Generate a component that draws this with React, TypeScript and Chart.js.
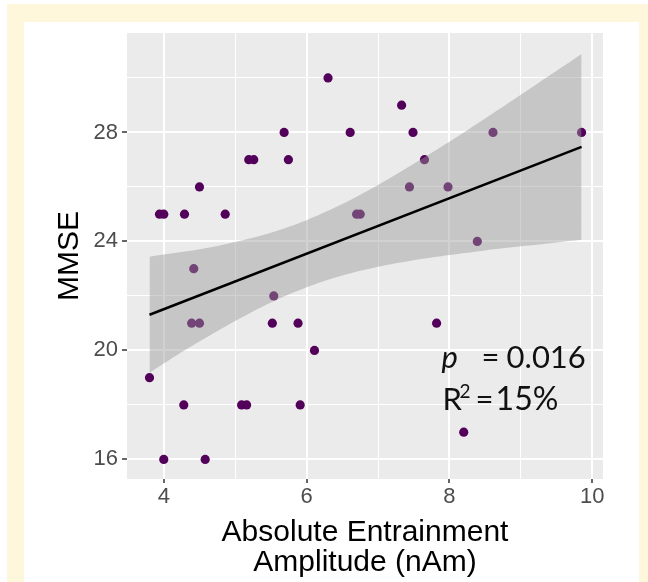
import React, { useEffect, useRef } from "react";
import { Chart, registerables } from "chart.js";

Chart.register(...registerables);

// Scatter data: Absolute Entrainment Amplitude (nAm) vs MMSE
const amplitude = [
  6.3, 5.685, 6.61, 5.19, 5.26, 5.745, 4.5, 3.94, 4.0, 4.29, 4.86, 6.7, 6.75, 4.42,
  7.33, 7.49, 8.61, 9.85, 7.65, 7.44, 7.98, 8.39, 5.54, 4.39, 4.5, 5.52, 5.88, 6.11,
  3.8, 4.28, 5.09, 5.16, 5.91, 4.0, 4.58, 7.82, 8.2,
];
const mmse = [
  30, 28, 28, 27, 27, 27, 26, 25, 25, 25, 25, 25, 25, 23,
  29, 28, 28, 28, 27, 26, 26, 24, 22, 21, 21, 21, 21, 20,
  19, 18, 18, 18, 18, 16, 16, 21, 17,
];

// Regression line and confidence band
const fitX = [3.8, 9.85];
const fitY = [21.31, 27.47];
const bandX = [3.8, 4.2, 4.6, 5.0, 5.5, 6.0, 6.5, 7.0, 7.5, 8.0, 8.5, 9.0, 9.5, 9.85];
const bandUpper = [23.44, 23.59, 23.76, 23.98, 24.32, 24.78, 25.37, 26.07, 26.85, 27.66, 28.51, 29.38, 30.26, 30.88];
const bandLower = [19.18, 19.85, 20.48, 21.08, 21.76, 22.32, 22.75, 23.07, 23.31, 23.5, 23.67, 23.82, 23.96, 24.06];

// Axis ticks
const xTicks = [4, 5, 6, 7, 8, 9, 10];
const xLabelled = [4, 6, 8, 10];
const yTicks = [16, 18, 20, 22, 24, 26, 28, 30];
const yLabelled = [16, 20, 24, 28];

// Annotation
const annX = 7.89;
const annY1 = 19.35;
const annY2 = 17.82;
const pText = "0.016";
const r2Text = "15%";

const PANEL_BG = "#EBEBEB";
const POINT_COLOR = "#52005a";
const BAND_COLOR = "rgba(153,153,153,0.45)";
const TICK_COLOR = "#4D4D4D";

const panelBg = {
  id: "panelBg",
  beforeDraw(chart: any) {
    const { ctx, chartArea } = chart;
    ctx.save();
    ctx.fillStyle = PANEL_BG;
    ctx.fillRect(chartArea.left, chartArea.top, chartArea.right - chartArea.left, chartArea.bottom - chartArea.top);
    ctx.restore();
  },
};

const annotation = {
  id: "statsText",
  afterDatasetsDraw(chart: any) {
    const { ctx, scales } = chart;
    const x0 = scales.x.getPixelForValue(annX);
    const y1 = scales.y.getPixelForValue(annY1);
    const y2 = scales.y.getPixelForValue(annY2);
    ctx.save();
    ctx.fillStyle = "#111111";
    ctx.textBaseline = "alphabetic";
    ctx.textAlign = "left";
    ctx.font = "italic 31px Lato";
    ctx.fillText("p", x0, y1);
    ctx.font = "31px Lato";
    ctx.fillText("=", x0 + 40, y1);
    ctx.fillText(pText, x0 + 65, y1);
    ctx.fillText("R", x0 + 1, y2);
    ctx.font = "19px Lato";
    ctx.fillText("2", x0 + 18, y2 - 12);
    ctx.font = "31px Lato";
    ctx.fillText("=", x0 + 34, y2);
    ctx.font = "32px Lato";
    ctx.fillText(r2Text, x0 + 54, y2);
    ctx.restore();
  },
};

export default function App() {
  const canvasRef = useRef<HTMLCanvasElement | null>(null);

  useEffect(() => {
    if (!canvasRef.current) return;
    const chart = new Chart(canvasRef.current, {
      type: "scatter",
      data: {
        datasets: [
          {
            label: "points",
            data: amplitude.map((x, i) => ({ x, y: mmse[i] })),
            backgroundColor: POINT_COLOR,
            borderColor: POINT_COLOR,
            borderWidth: 0,
            pointRadius: 4.6,
            order: 2,
          },
          {
            label: "upper",
            data: bandX.map((x, i) => ({ x, y: bandUpper[i] })),
            showLine: true,
            pointRadius: 0,
            borderWidth: 0,
            borderColor: "rgba(0,0,0,0)",
            backgroundColor: BAND_COLOR,
            fill: "+1",
            tension: 0.3,
            order: 1,
          },
          {
            label: "lower",
            data: bandX.map((x, i) => ({ x, y: bandLower[i] })),
            showLine: true,
            pointRadius: 0,
            borderWidth: 0,
            borderColor: "rgba(0,0,0,0)",
            fill: false,
            tension: 0.3,
            order: 1,
          },
          {
            label: "fit",
            data: fitX.map((x, i) => ({ x, y: fitY[i] })),
            showLine: true,
            pointRadius: 0,
            borderWidth: 2.5,
            borderColor: "#000000",
            fill: false,
            order: 0,
          },
        ],
      },
      options: {
        animation: false,
        responsive: false,
        devicePixelRatio: 1,
        events: [],
        layout: { padding: { left: 0, top: 33, right: 45, bottom: 0 } },
        plugins: {
          legend: { display: false },
          tooltip: { enabled: false },
        },
        scales: {
          x: {
            type: "linear",
            min: 3.485,
            max: 10.15,
            afterBuildTicks: (scale: any) => {
              scale.ticks = xTicks.map((v) => ({ value: v }));
            },
            afterFit: (scale: any) => {
              scale.height = 103;
            },
            border: { display: false },
            grid: {
              color: "#FFFFFF",
              lineWidth: (c: any) => (xLabelled.includes(c.tick?.value) ? 2 : 1),
              tickColor: (c: any) => (xLabelled.includes(c.tick?.value) ? "#333333" : "rgba(0,0,0,0)"),
              tickLength: 4,
              tickWidth: 1.5,
            },
            ticks: {
              autoSkip: false,
              maxRotation: 0,
              padding: 1,
              color: TICK_COLOR,
              font: { family: "'Liberation Sans', Arial, sans-serif", size: 22 },
              callback: (v: any) => (xLabelled.includes(Number(v)) ? String(v) : ""),
            },
            title: {
              display: true,
              text: ["Absolute Entrainment", "Amplitude (nAm)"],
              color: "#000000",
              font: { family: "'Liberation Sans', Arial, sans-serif", size: 30, lineHeight: 1.0 },
              padding: { top: 0, bottom: 4 },
            },
          },
          y: {
            type: "linear",
            min: 15.28,
            max: 31.65,
            afterBuildTicks: (scale: any) => {
              scale.ticks = yTicks.map((v) => ({ value: v }));
            },
            afterFit: (scale: any) => {
              scale.width = 127;
            },
            border: { display: false },
            grid: {
              color: "#FFFFFF",
              lineWidth: (c: any) => (yLabelled.includes(c.tick?.value) ? 2 : 1),
              tickColor: (c: any) => (yLabelled.includes(c.tick?.value) ? "#333333" : "rgba(0,0,0,0)"),
              tickLength: 5,
              tickWidth: 1.5,
            },
            ticks: {
              autoSkip: false,
              padding: 4,
              color: TICK_COLOR,
              font: { family: "'Liberation Sans', Arial, sans-serif", size: 22 },
              callback: (v: any) => (yLabelled.includes(Number(v)) ? String(v) : ""),
            },
            title: {
              display: true,
              text: "MMSE",
              color: "#000000",
              font: { family: "'Liberation Sans', Arial, sans-serif", size: 30 },
              padding: { top: 52, bottom: 0 },
            },
          },
        },
      },
      plugins: [panelBg, annotation],
    } as any);
    return () => chart.destroy();
  }, []);

  return (
    <div style={{ position: "absolute", left: 0, top: 0, width: 648, height: 582, background: "#ffffff", overflow: "hidden" }}>
      <div style={{ position: "absolute", left: 7, top: 4, width: 641, height: 578, background: "#fef7dc" }} />
      <div style={{ position: "absolute", left: 24, top: 22, width: 615, height: 560, background: "#ffffff" }} />
      <canvas
        ref={canvasRef}
        width={648}
        height={582}
        style={{ position: "absolute", left: 0, top: 0, width: 648, height: 582 }}
      />
    </div>
  );
}
